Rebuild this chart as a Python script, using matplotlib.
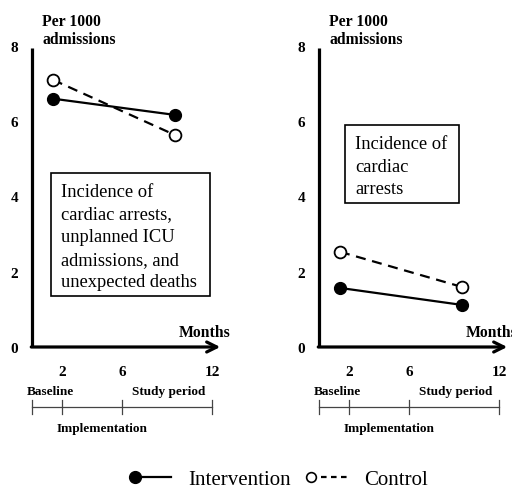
import matplotlib
matplotlib.use("Agg")
from matplotlib import pyplot as plt, rcParams
from matplotlib.lines import Line2D
from matplotlib.patches import Rectangle
from matplotlib.legend_handler import HandlerLine2D

rcParams["font.family"] = "serif"
rcParams["font.serif"] = ["Liberation Serif", "DejaVu Serif"]

# Data
months = [1.4, 9.5]
panel_titles = [
    "Incidence of\ncardiac arrests,\nunplanned ICU\nadmissions, and\nunexpected deaths",
    "Incidence of\ncardiac\narrests",
]
intervention = [[6.6, 6.17], [1.57, 1.12]]
control = [[7.1, 5.64], [2.53, 1.6]]
y_ticks = [0, 2, 4, 6, 8]
x_ticks = [2, 6, 12]
phase_bounds = [0, 2, 6, 12]
phase_labels = ["Baseline", "Implementation", "Study period"]
phase_label_x = [1.2, 4.7, 9.1]
phase_label_y = [-1.17, -2.15, -1.17]

# Text box extents (data units) per panel: x0, x1, y0, y1, text x
boxes = [(1.27, 11.87, 1.36, 4.63, 1.93), (1.73, 9.33, 3.83, 5.9, 2.4)]


class MarkerFirstHandler(HandlerLine2D):
    """Legend handle with the marker only at the left end of the line."""

    def create_artists(self, *args, **kwargs):
        artists = super().create_artists(*args, **kwargs)
        for a in artists:
            a.set_markevery([0])
        return artists


W, H = 512, 489
fig = plt.figure(figsize=(W / 100, H / 100), dpi=100)

ax_lefts = [32, 319]
for k, left in enumerate(ax_lefts):
    ax = fig.add_axes([left / W, 141 / H, 200 / W, 301 / H])
    ax.set_xlim(0, 200 / 15)
    ax.set_ylim(0, 8)
    for s in ax.spines.values():
        s.set_visible(False)
    ax.patch.set_visible(False)

    # axes
    ax.plot([0, 0], [0, 7.95], color="black", lw=2.3, clip_on=False, solid_capstyle="butt")
    ax.annotate("", xy=(12.55, 0), xytext=(-0.05, 0),
                arrowprops=dict(arrowstyle="->", lw=2.3, color="black",
                                mutation_scale=18, shrinkA=0, shrinkB=0),
                annotation_clip=False)

    ax.set_yticks(y_ticks)
    ax.set_yticklabels([str(v) for v in y_ticks], fontweight="bold", fontsize=11)
    ax.set_xticks(x_ticks)
    ax.set_xticklabels([str(v) for v in x_ticks], fontweight="bold", fontsize=11)
    ax.tick_params(axis="y", length=0, pad=10)
    ax.tick_params(axis="x", length=0, pad=13)

    # series
    ax.plot(months, control[k], color="black", lw=1.6, ls=(0, (4.5, 3)),
            marker="o", ms=8.5, mfc="white", mec="black", mew=1.3, clip_on=False)
    ax.plot(months, intervention[k], color="black", lw=1.6, ls="-",
            marker="o", ms=8.5, mfc="black", mec="black", clip_on=False)

    # text box
    x0, x1, y0, y1, tx = boxes[k]
    ax.add_patch(Rectangle((x0, y0), x1 - x0, y1 - y0, fill=False,
                           edgecolor="black", lw=1.2))
    ax.text(tx, y1 - 0.27, panel_titles[k], ha="left", va="top",
            fontsize=13.3, linespacing=1.43)

    ax.text(0.67, 8.88, "Per 1000\nadmissions", ha="left", va="top",
            fontweight="bold", fontsize=11.3, linespacing=1.2, clip_on=False)
    ax.text(13.2, 0.4, "Months", ha="right", va="center",
            fontweight="bold", fontsize=11.3, clip_on=False)

    # phase timeline
    ax.plot([phase_bounds[0], phase_bounds[-1]], [-1.6, -1.6],
            color="#444444", lw=0.9, clip_on=False)
    for b in phase_bounds:
        ax.plot([b, b], [-1.79, -1.41], color="#444444", lw=0.9, clip_on=False)
    for lab, lx, ly in zip(phase_labels, phase_label_x, phase_label_y):
        ax.text(lx, ly, lab, ha="center", va="center", fontweight="bold",
                fontsize=9.5, clip_on=False)

# legend
h_int = Line2D([], [], color="black", lw=1.6, marker="o", ms=8.5,
               mfc="black", mec="black")
h_ctl = Line2D([], [], color="black", lw=1.6, ls=(0, (2.5, 2)), marker="o", ms=7,
               mfc="white", mec="black", mew=1.2)
handler = MarkerFirstHandler()
fig.legend([h_int, h_ctl], ["Intervention", "Control"], loc="center",
           bbox_to_anchor=(0.55, 1 - 480 / H), ncol=2, frameon=False,
           fontsize=15, handlelength=1.75, handletextpad=0.8,
           columnspacing=1.0, handler_map={Line2D: handler})

fig.savefig("out.png", dpi=100)
